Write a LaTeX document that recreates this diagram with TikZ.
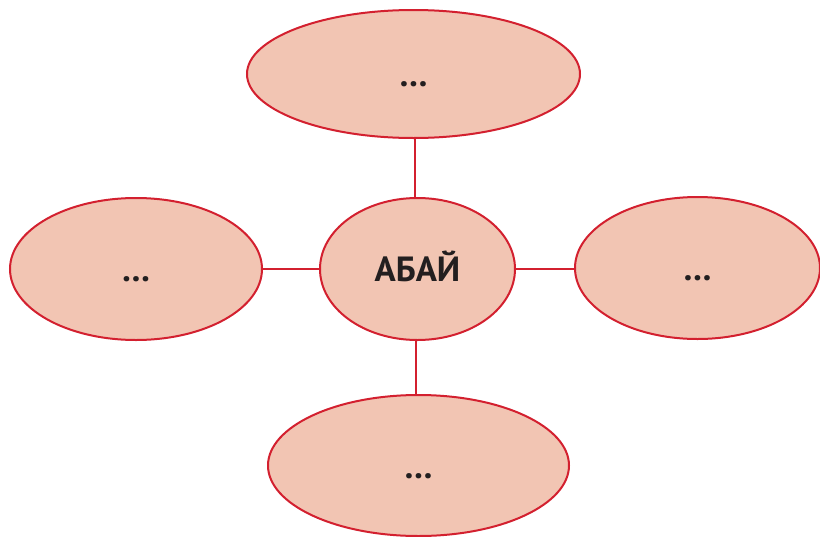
\documentclass[tikz,border=0pt]{standalone}
\usepackage{fontspec}
\setmainfont{PT Sans}
\usetikzlibrary{shapes.geometric}
\definecolor{fillc}{HTML}{F2C5B3}
\definecolor{linec}{HTML}{D3202F}
\definecolor{textc}{HTML}{231F20}
\tikzset{
  bubble/.style={ellipse, draw=linec, fill=fillc, line width=2pt, inner sep=0pt, text=textc, text height=25pt, text depth=0pt, font=\fontsize{35}{40}\selectfont\bfseries},
  link/.style={draw=linec, line width=2pt}
}
\begin{document}
\begin{tikzpicture}[x=1pt,y=-1pt]
\useasboundingbox (0,0) rectangle (820,536);
\node[bubble, minimum width=333pt, minimum height=128pt] (top) at (413.5,74) {…};
\node[bubble, minimum width=252pt, minimum height=142pt] (left) at (136,269) {…};
\node[bubble, minimum width=195pt, minimum height=142pt] (c) at (417.5,269) {АБАЙ};
\node[bubble, minimum width=245pt, minimum height=142pt] (right) at (697.5,268) {…};
\node[bubble, minimum width=301pt, minimum height=141pt] (bot) at (418.5,465.5) {…};
\coordinate (ct) at ([xshift=-2.5pt]c.north);
\coordinate (cb) at ([xshift=-1.5pt]c.south);
\draw[link] (ct) -- (ct |- top.south);
\draw[link] (left.east) -- (left.east -| c.west);
\draw[link] (c.east) -- (c.east -| right.west);
\draw[link] (cb) -- (cb |- bot.north);
\end{tikzpicture}
\end{document}
